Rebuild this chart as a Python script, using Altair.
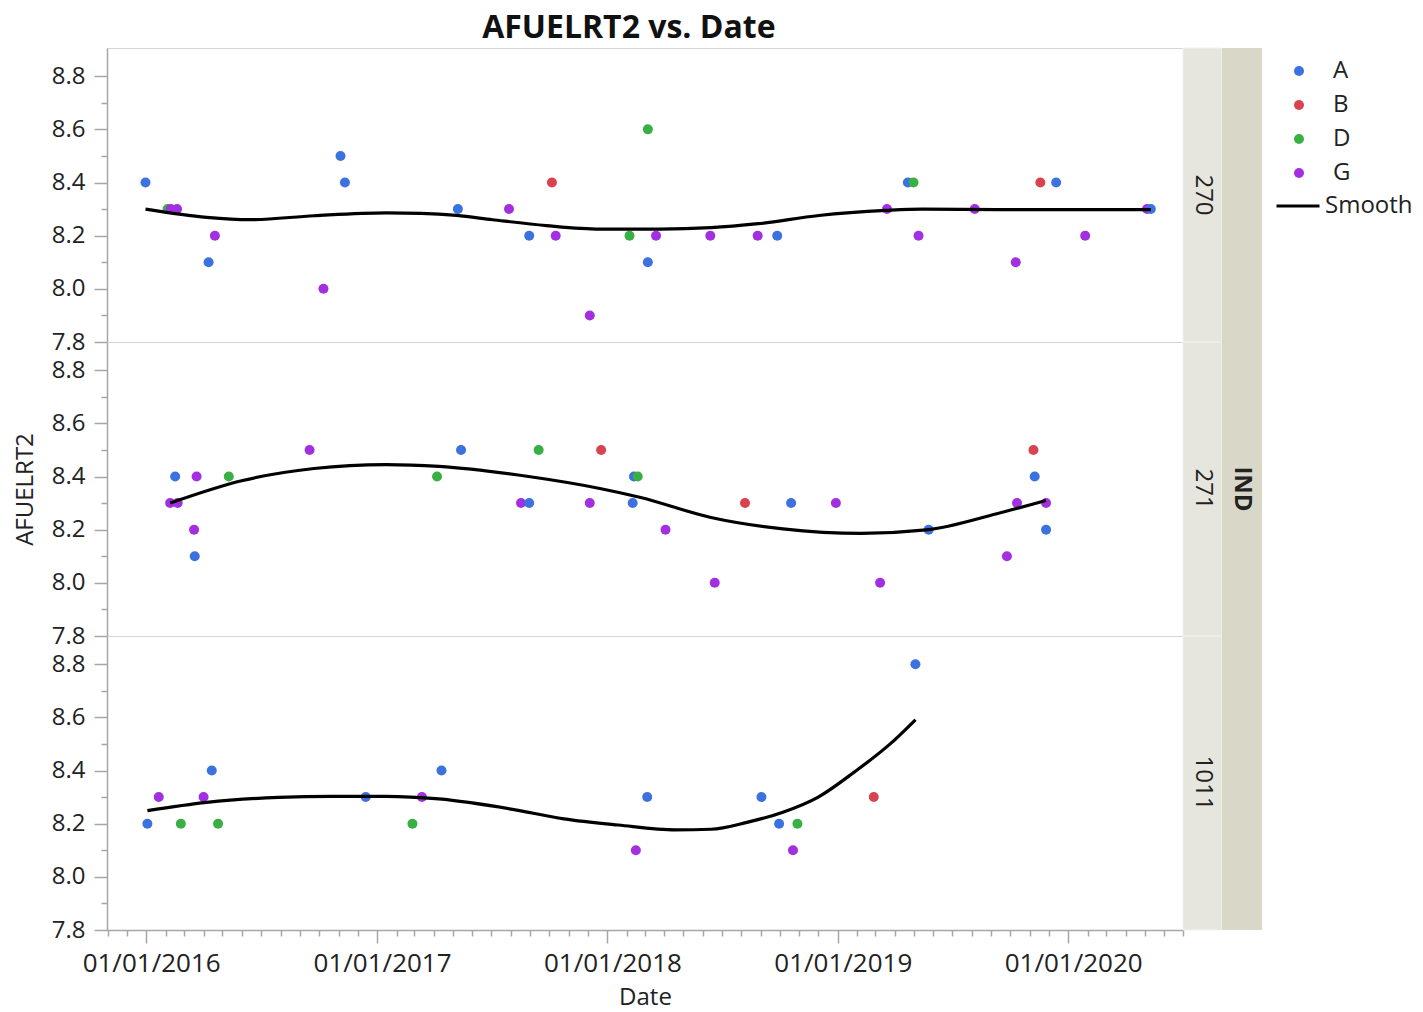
import altair as alt
import pandas as pd

FONT = "Open Sans"
GROUPS = ["A", "B", "D", "G"]
COLORS = ["#3b72e0", "#d8434f", "#39b043", "#a230e0"]
SMOOTH = "Smooth"

# ---- panel 270 ----
p270_dates = ["2015-12-31", "2016-02-04", "2016-02-09", "2016-02-19", "2016-04-09", "2016-04-19",
              "2016-10-08", "2016-11-04", "2016-11-11", "2017-05-09", "2017-07-29", "2017-08-30",
              "2017-10-05", "2017-10-11", "2017-12-04", "2018-02-05", "2018-03-06", "2018-03-06",
              "2018-03-19", "2018-06-13", "2018-08-27", "2018-09-27", "2019-03-20", "2019-04-22",
              "2019-05-01", "2019-05-09", "2019-08-06", "2019-10-10", "2019-11-18", "2019-12-13",
              "2020-01-28", "2020-05-05", "2020-05-11"]
p270_values = [8.4, 8.3, 8.3, 8.3, 8.1, 8.2, 8.0, 8.5, 8.4, 8.3, 8.3, 8.2, 8.4, 8.2, 7.9, 8.2, 8.6,
               8.1, 8.2, 8.2, 8.2, 8.2, 8.3, 8.4, 8.4, 8.2, 8.3, 8.1, 8.4, 8.4, 8.2, 8.3, 8.3]
p270_groups = ["A", "D", "G", "G", "A", "G", "G", "A", "A", "A", "G", "A", "B", "G", "G", "D", "D",
               "A", "G", "G", "G", "A", "G", "A", "D", "G", "G", "G", "B", "A", "G", "G", "A"]
s270_dates = ["2015-12-31", "2016-04-06", "2016-06-13", "2016-09-23", "2017-01-15", "2017-03-12",
              "2017-05-07", "2017-07-03", "2017-09-26", "2017-12-20", "2018-03-25", "2018-06-14",
              "2018-08-28", "2018-12-02", "2019-03-18", "2019-05-14", "2019-09-15", "2020-05-11"]
s270_values = [8.300, 8.269, 8.260, 8.275, 8.286, 8.284, 8.276, 8.260, 8.238, 8.225, 8.225, 8.230,
               8.245, 8.276, 8.295, 8.300, 8.298, 8.298]

# ---- panel 271 ----
p271_dates = ["2016-02-08", "2016-02-16", "2016-02-20", "2016-03-17", "2016-03-18", "2016-03-21",
              "2016-05-11", "2016-09-16", "2017-04-06", "2017-05-14", "2017-08-17", "2017-08-30",
              "2017-09-14", "2017-12-04", "2017-12-22", "2018-02-10", "2018-02-12", "2018-02-18",
              "2018-04-03", "2018-06-20", "2018-08-07", "2018-10-19", "2018-12-29", "2019-03-09",
              "2019-05-25", "2019-09-26", "2019-10-12", "2019-11-07", "2019-11-09", "2019-11-27",
              "2019-11-27"]
p271_values = [8.3, 8.4, 8.3, 8.2, 8.1, 8.4, 8.4, 8.5, 8.4, 8.5, 8.3, 8.3, 8.5, 8.3, 8.5, 8.3,
               8.4, 8.4, 8.2, 8.0, 8.3, 8.3, 8.3, 8.0, 8.2, 8.1, 8.3, 8.5, 8.4, 8.3, 8.2]
p271_groups = ["G", "A", "G", "G", "A", "G", "D", "G", "D", "A", "G", "A", "D", "G", "B", "A",
               "A", "D", "G", "G", "B", "A", "G", "G", "A", "G", "G", "B", "A", "G", "A"]
s271_dates = ["2016-02-08", "2016-06-02", "2016-09-23", "2017-01-15", "2017-04-09", "2017-08-29",
              "2017-12-20", "2018-02-21", "2018-06-14", "2018-10-06", "2019-02-07", "2019-05-21",
              "2019-09-10", "2019-11-27"]
s271_values = [8.300, 8.385, 8.430, 8.445, 8.438, 8.400, 8.355, 8.322, 8.246, 8.203, 8.186,
               8.199, 8.260, 8.310]

# ---- panel 1011 ----
p1011_dates = ["2016-01-03", "2016-01-21", "2016-02-25", "2016-04-01", "2016-04-14", "2016-04-24",
               "2016-12-14", "2017-02-26", "2017-03-13", "2017-04-13", "2018-02-15", "2018-03-05",
               "2018-09-02", "2018-09-30", "2018-10-22", "2018-10-29", "2019-02-27", "2019-05-04"]
p1011_values = [8.2, 8.3, 8.2, 8.3, 8.4, 8.2, 8.3, 8.2, 8.3, 8.4, 8.1, 8.3, 8.3, 8.2, 8.1, 8.2,
                8.3, 8.8]
p1011_groups = ["A", "G", "D", "G", "A", "D", "A", "D", "G", "A", "G", "A", "A", "A", "G", "D",
                "B", "A"]
s1011_dates = ["2016-01-03", "2016-04-06", "2016-07-29", "2016-10-21", "2017-01-15", "2017-04-09",
               "2017-08-01", "2017-10-24", "2018-01-18", "2018-04-19", "2018-06-14", "2018-08-10",
               "2018-10-06", "2018-12-01", "2019-01-27", "2019-03-25", "2019-05-04"]
s1011_values = [8.249, 8.280, 8.299, 8.303, 8.303, 8.293, 8.255, 8.218, 8.195, 8.177, 8.179,
                8.205, 8.243, 8.300, 8.394, 8.500, 8.591]

Y_TICKS = [7.8, 7.9, 8.0, 8.1, 8.2, 8.3, 8.4, 8.5, 8.6, 8.7, 8.8]
MONTH_TICKS = pd.date_range("2015-11-01", "2020-07-01", freq="MS")
MONTH_MS = [int(t.value // 10**6) for t in MONTH_TICKS]

W, H = 1076, 294
INNER_W, OUTER_W = 39, 40
TEXT = "#222222"
AXIS_GRAY = "#a6a6a6"
INNER = "#e6e6de"
OUTER = "#d9d8c8"

x_scale = alt.Scale(type="utc",
                    domain=[alt.DateTime(year=2015, month=10, date=31, utc=True),
                            alt.DateTime(year=2020, month=7, date=1, utc=True)],
                    nice=False)
y_scale = alt.Scale(domain=[7.8, 8.906], nice=False, zero=False)

x_axis = alt.Axis(values=MONTH_MS,
                  labelExpr="utcmonth(datum.value) == 0 ? utcFormat(datum.value, '%m/%d/%Y') : ''",
                  tickSize={"condition": {"test": "utcmonth(datum.value) == 0", "value": 13}, "value": 6},
                  labelOverlap=False, labelFlush=False, grid=False, title="Date",
                  labelFontSize=26, labelPadding=7, titlePadding=9, labelOffset=5)

color_legend = alt.Legend(title=None, orient="none", legendX=1164, legendY=11, padding=0,
                          symbolType="circle", symbolSize=100, symbolOffset=16,
                          labelOffset=22, rowPadding=10, labelFontSize=24,
                          labelFont=FONT, labelColor=TEXT)
stroke_legend = alt.Legend(title=None, orient="none", legendX=1168, legendY=135, padding=0,
                           symbolType="stroke", symbolSize=1849, symbolStrokeWidth=3,
                           labelOffset=4, labelFontSize=24, labelFont=FONT, labelColor=TEXT)


def y_axis(show_title):
    return alt.Axis(values=Y_TICKS,
                    labelExpr="round(datum.value*10) % 2 == 0 ? format(datum.value, '.1f') : ''",
                    tickSize={"condition": {"test": "round(datum.value*10) % 2 == 0", "value": 13},
                              "value": 6},
                    labelOverlap=False, grid=False, title="AFUELRT2",
                    titleColor=TEXT if show_title else "#ffffff",
                    labelPadding=9, titlePadding=14)


def panel(label, dates, vals, groups, sdates, svals, show_x, middle):
    pts = pd.DataFrame({"Date": dates, "AFUELRT2": vals, "Group": groups})
    sm = pd.DataFrame({"Date": sdates, "AFUELRT2": svals, "Fit": [SMOOTH] * len(sdates)})
    lab = pd.DataFrame({"t": [label], "g": ["IND" if middle else ""]})
    if show_x:
        x = alt.X("Date:T", scale=x_scale, axis=x_axis)
    else:
        x = alt.X("Date:T", scale=x_scale, axis=None)
    y = alt.Y("AFUELRT2:Q", scale=y_scale, axis=y_axis(middle))
    points = alt.Chart(pts).mark_circle(size=100, opacity=1).encode(
        x=x, y=y,
        color=alt.Color("Group:N", scale=alt.Scale(domain=GROUPS, range=COLORS),
                        legend=color_legend))
    line = alt.Chart(sm).mark_line(strokeWidth=3.2, interpolate="monotone").encode(
        x=x, y=y,
        stroke=alt.Stroke("Fit:N", scale=alt.Scale(domain=[SMOOTH], range=["#000000"]),
                          legend=stroke_legend))
    inner_rect = alt.Chart(lab).mark_rect(color=INNER, stroke="#f2f2ee", strokeWidth=1).encode(
        x=alt.value(W), x2=alt.value(W + INNER_W), y=alt.value(0), y2=alt.value(H))
    inner_text = alt.Chart(lab).mark_text(angle=90, fontSize=24, font=FONT, color=TEXT).encode(
        x=alt.value(W + INNER_W / 2), y=alt.value(H / 2), text="t:N")
    outer_rect = alt.Chart(lab).mark_rect(color=OUTER).encode(
        x=alt.value(W + INNER_W), x2=alt.value(W + INNER_W + OUTER_W),
        y=alt.value(0), y2=alt.value(H))
    outer_text = alt.Chart(lab).mark_text(angle=90, fontSize=24, font=FONT, fontWeight="bold",
                                          color=TEXT).encode(
        x=alt.value(W + INNER_W + OUTER_W / 2), y=alt.value(H / 2), text="g:N")
    return alt.layer(points, line, inner_rect, inner_text, outer_rect, outer_text).properties(
        width=W, height=H)


chart = alt.vconcat(
    panel("270", p270_dates, p270_values, p270_groups, s270_dates, s270_values, False, False),
    panel("271", p271_dates, p271_values, p271_groups, s271_dates, s271_values, False, True),
    panel("1011", p1011_dates, p1011_values, p1011_groups, s1011_dates, s1011_values, True, False),
    spacing=0, bounds="flush",
).resolve_scale(
    color="shared", stroke="shared"
).properties(
    title=alt.TitleParams("AFUELRT2 vs. Date", fontSize=32, fontWeight="bold", font=FONT,
                          color="#111111", anchor="middle", dx=-84, offset=2),
    padding={"left": 4, "top": 4, "right": 0, "bottom": 0},
).configure_view(
    stroke="#d4d4d4"
).configure_axis(
    labelFont=FONT, titleFont=FONT, labelFontSize=24, titleFontSize=24,
    labelColor=TEXT, titleColor=TEXT, titleFontWeight="normal",
    domainColor=AXIS_GRAY, tickColor=AXIS_GRAY, domainWidth=1.5, tickWidth=1.5
)

chart.save("out.html", embed_options={"renderer": "svg", "actions": False})
